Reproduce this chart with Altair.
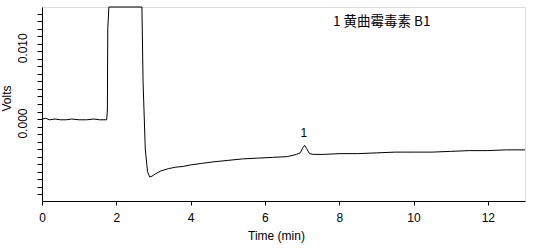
import altair as alt
import pandas as pd

time_min = [0.00, 0.10, 0.20, 0.35, 0.50, 0.65, 0.80, 1.00, 1.20, 1.40, 1.55, 1.74,
            1.76, 1.77, 1.80, 2.69, 2.72, 2.78, 2.84, 2.90, 2.96, 3.05, 3.20, 3.40,
            3.60, 3.80, 4.00, 4.30, 4.60, 5.00, 5.40, 5.80, 6.20, 6.60, 6.85, 6.95,
            7.02, 7.07, 7.12, 7.20, 7.30, 7.60, 8.00, 8.50, 9.00, 9.50, 10.00, 10.50,
            11.00, 11.50, 12.00, 12.50, 13.00]
volts = [0.0000, 0.0001, -0.0001, 0.0000, -0.0001, -0.0001, 0.0000, -0.0001, -0.0001, 0.0000, -0.0001, -0.0001,
         0.0012, 0.0120, 0.0149, 0.0149, 0.0050, -0.0040, -0.0070, -0.0077, -0.0076, -0.0073, -0.0069, -0.0066,
         -0.0064, -0.0063, -0.0061, -0.0059, -0.0057, -0.0055, -0.0053, -0.0052, -0.0051, -0.0050, -0.0047, -0.0045,
         -0.0038, -0.0035, -0.0039, -0.0046, -0.0047, -0.0047, -0.0046, -0.0046, -0.0045, -0.0044, -0.0044, -0.0044,
         -0.0043, -0.0042, -0.0042, -0.0041, -0.0041]

peak_time = [7.05]
peak_volts = [-0.0035]
peak_label = ["1"]
legend_text = "1 黄曲霉毒素 B1"

df = pd.DataFrame({"t": time_min, "v": volts})
peaks = pd.DataFrame({"t": peak_time, "v": peak_volts, "label": peak_label})

FONT = "Liberation Sans"

x_scale = alt.Scale(domain=[0, 13], nice=False, zero=False)
y_scale = alt.Scale(domain=[-0.0109, 0.0149], nice=False, zero=False)

x_ticks = list(range(0, 14))

line = alt.Chart(df).mark_line(color="black", strokeWidth=1, clip=False, interpolate="linear").encode(
    x=alt.X("t:Q", scale=x_scale, title="Time (min)",
            axis=alt.Axis(values=x_ticks, labelExpr="datum.value % 2 == 0 ? datum.label : ''",
                          grid=False, tickSize=4, domainColor="black", tickColor="black",
                          labelColor="black", titleColor="black", labelFont=FONT, titleFont=FONT,
                          labelFontSize=12, titleFontSize=12, titleFontWeight="normal",
                          labelPadding=7, titlePadding=7, format="d", labelFlush=False,
                          labelOverlap=False, titleX=234, titleAlign="center")),
    y=alt.Y("v:Q", scale=y_scale, title="Volts",
            axis=alt.Axis(tickCount=26, format=".3f",
                          labelExpr="(abs(datum.value) < 0.0005 || abs(datum.value - 0.01) < 0.0005) ? datum.label : ''",
                          grid=False, tickSize=5, domainColor="black", tickColor="black",
                          labelColor="black", titleColor="black", labelFont=FONT, titleFont=FONT,
                          labelFontSize=12, titleFontSize=12, titleFontWeight="normal",
                          labelAngle=270, labelAlign="center", labelBaseline="bottom",
                          labelPadding=8, labelFlush=False, labelOverlap=False, labelOffset=4,
                          titleAngle=270, titleAlign="center", titleBaseline="bottom",
                          titleX=-29, titleY=91)),
)

peak_text = alt.Chart(peaks).mark_text(font=FONT, fontSize=12, color="black", baseline="bottom", dy=-5).encode(
    x=alt.X("t:Q", scale=x_scale),
    y=alt.Y("v:Q", scale=y_scale),
    text="label:N",
)

legend = alt.Chart(pd.DataFrame({"txt": [legend_text]})).mark_text(
    font="Noto Sans CJK SC", fontSize=13.5, color="black", align="left", baseline="middle"
).encode(x=alt.value(291), y=alt.value(15), text="txt:N")

chart = (line + peak_text + legend).properties(
    width=483, height=194,
    autosize=alt.AutoSizeParams(type="none"),
    padding={"left": 42, "top": 7, "right": 20, "bottom": 48},
).configure_view(stroke=None).configure(background="white")

chart.save("out.html", embed_options={"renderer": "svg", "actions": False})
